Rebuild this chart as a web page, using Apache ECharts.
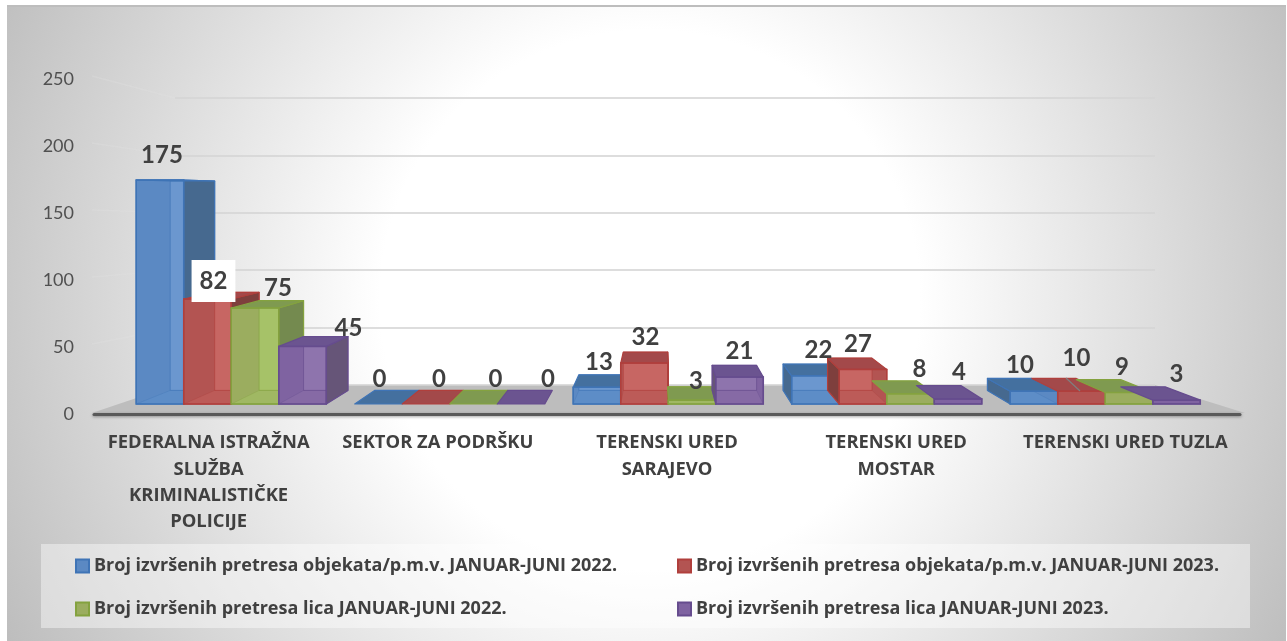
<!DOCTYPE html>
<html>
<head>
<meta charset="utf-8">
<style>html,body{margin:0;padding:0;background:#fff}#c{width:1287px;height:641px}</style>
<script src="https://cdn.jsdelivr.net/npm/echarts@6/dist/echarts.min.js"></script>
</head>
<body>
<div id="c"></div>
<script>
const categories = [
  'FEDERALNA ISTRAŽNA\nSLUŽBA\nKRIMINALISTIČKE\nPOLICIJE',
  'SEKTOR ZA PODRŠKU',
  'TERENSKI URED\nSARAJEVO',
  'TERENSKI URED\nMOSTAR',
  'TERENSKI URED TUZLA'
];
const seriesNames = [
  'Broj izvršenih pretresa objekata/p.m.v. JANUAR-JUNI 2022.',
  'Broj izvršenih pretresa objekata/p.m.v. JANUAR-JUNI 2023.',
  'Broj izvršenih pretresa lica JANUAR-JUNI 2022.',
  'Broj izvršenih pretresa lica JANUAR-JUNI 2023.'
];
const objekti2022 = [175, 0, 13, 22, 10];
const objekti2023 = [82, 0, 32, 27, 10];
const lica2022 = [75, 0, 3, 8, 9];
const lica2023 = [45, 0, 21, 4, 3];
const yTicks = [0, 50, 100, 150, 200, 250];

// Style tables (separate from the data)
const faces = [
  {front:'#5b89c3', back:'#6f9bd2', side:'#46698f', top:'#44709f', edge:'#3f74b6', floor:'#5f8fc9'},
  {front:'#b35452', back:'#cc6a68', side:'#7e3f3d', top:'#a3494a', edge:'#b03f3c', floor:'#c2605e'},
  {front:'#9bad5f', back:'#a9c76a', side:'#748a4f', top:'#7f9a50', edge:'#84a23f', floor:'#a3bf66'},
  {front:'#7f63a1', back:'#9278b0', side:'#665578', top:'#6b5490', edge:'#664c8e', floor:'#8a6fa9'}
];
// label offset [dx, dy] from the centre of each bar's front top edge, by series then category
const labelShift = [
  [[2,-25],[1,-25],[2,-25],[3,-26],[-14,-26]],
  [[6,-18],[13,-25],[1,-26],[-5,-25],[-5,-33]],
  [[23,-20],[22,-25],[4,-19],[9,-24],[-7,-25]],
  [[46,-18],[27,-25],[0,-26],[1,-27],[0,-26]]
];
const allValues = [objekti2022, objekti2023, lica2022, lica2023];
const FONT = 'Lato';
const WIDE = '"Open Sans"';
const TXT = '#404040';
const VX = 660, VY = 195, DEPTH = 0.065;
const back = p => [p[0] + DEPTH * (VX - p[0]), p[1] + DEPTH * (VY - p[1])];

function renderBar(params, api) {
  const s = params.seriesIndex, c = api.value(0), v = api.value(1);
  const center = api.coord([c, 0]);
  const topPt = api.coord([c, v]);
  const w = api.size([1, 0])[0] * 0.2175;
  const x0 = center[0] + (s - 2) * w, x1 = x0 + w;
  const yb = center[1], yt = topPt[1];
  const f = faces[s];
  const fbl=[x0,yb], fbr=[x1,yb], ftl=[x0,yt], ftr=[x1,yt];
  const bbl=back(fbl), bbr=back(fbr), btl=back(ftl), btr=back(ftr);
  const edge = {stroke:f.edge, lineWidth:1.2, lineJoin:'round'};
  const kids = [];
  const poly = (pts, fill, extra) => kids.push({type:'polygon', shape:{points:pts},
    style:Object.assign({fill:fill}, edge, extra||{})});
  const hiddenByPrev = s > 0 && allValues[s-1][c] >= v && bbl[0] < x0 - 5;
  if (v > 0) {
    poly([ftl,ftr,fbr,fbl], f.front);
    if (!hiddenByPrev) {
      poly([fbl,fbr,bbr,bbl], f.floor, {opacity:0.6, lineWidth:0.5});
      poly([btl,btr,bbr,bbl], f.back, {opacity:0.8, lineWidth:0.8});
    }
  }
  if (bbl[0] > x0) { if (v > 0) poly([ftr,btr,bbr,fbr], f.side); }
  else if (v > 0 && (s === 0 || allValues[s-1][c] < v)) poly([ftl,btl,bbl,fbl], f.side);
  poly([ftl,ftr,btr,btl], f.top);
  if (v > 0) kids.push({type:'polygon', shape:{points:[ftl,ftr,fbr,fbl]},
    style:{fill:'transparent', stroke:f.edge, lineWidth:1.5}});
  const sh = labelShift[s][c];
  const isBoxed = s === 1 && c === 0;
  kids.push({type:'text', z2:50, style:{
    x:(x0+x1)/2 + sh[0], y:yt + sh[1],
    text:String(v), align:'center', verticalAlign:'middle',
    font:'bold 24px ' + FONT, fill:TXT,
    backgroundColor:isBoxed ? '#ffffff' : undefined,
    padding:isBoxed ? [9,8,9,8] : 0
  }});
  return {type:'group', children:kids};
}

const wallGrid = {left:175, width:980, top:98, height:287};
const leftY = t => 76 + 67 * (5 - t / 50);
const wallLeft = yTicks.slice(1).map(t => ({
  type:'line', z:-6,
  shape:{x1:92, y1:leftY(t), x2:175, y2:98 + 287 * (1 - t / 250)},
  style:{stroke:'rgba(228,228,228,0.28)', lineWidth:1.5}
}));

const legendText = {color:TXT, fontFamily:WIDE, fontWeight:'bold', fontSize:18};
const chart = echarts.init(document.getElementById('c'), null, {renderer:'canvas'});
chart.setOption({
  animation:false,
  backgroundColor:'#ffffff',
  textStyle:{fontFamily:FONT},
  grid:[
    {left:122, width:1092.5, top:84, height:320},
    {left:94, width:1146, top:79, height:335},
    wallGrid
  ],
  xAxis:[
    {gridIndex:0, type:'category', data:categories, show:false},
    {gridIndex:1, type:'category', data:categories,
      axisLine:{lineStyle:{color:'#595959', width:3, shadowColor:'rgba(0,0,0,0.35)', shadowBlur:3, shadowOffsetY:1}},
      axisTick:{show:false},
      axisLabel:{interval:0, margin:16, color:TXT, fontFamily:WIDE, fontWeight:'bold', fontSize:18.4, lineHeight:26.3}},
    {gridIndex:2, type:'category', data:categories, show:false}
  ],
  yAxis:[
    {gridIndex:0, type:'value', min:0, max:250, show:false, splitLine:{show:false}},
    {gridIndex:1, type:'value', min:0, max:250, interval:50,
      axisLine:{show:false}, axisTick:{show:false}, splitLine:{show:false},
      axisLabel:{margin:20, color:'#505050', fontFamily:FONT, fontSize:18, padding:[6,0,0,0]}},
    {gridIndex:2, type:'value', min:0, max:250, interval:50,
      axisLine:{show:false}, axisTick:{show:false}, axisLabel:{show:false},
      splitLine:{show:true, lineStyle:{color:'rgba(212,212,212,0.8)', width:2}}}
  ],
  legend:[
    {left:70, top:552, orient:'vertical', itemWidth:13, itemHeight:13, itemGap:25, selectedMode:false,
      textStyle:legendText,
      data:[seriesNames[0], seriesNames[2]].map(n => ({name:n, icon:'rect'}))},
    {left:672, top:552, orient:'vertical', itemWidth:13, itemHeight:13, itemGap:25, selectedMode:false,
      textStyle:legendText,
      data:[seriesNames[1], seriesNames[3]].map(n => ({name:n, icon:'rect'}))}
  ],
  graphic:{elements:[
    {type:'rect', z:-10, shape:{x:7, y:5, width:1279, height:636},
      style:{fill:new echarts.graphic.RadialGradient(650, 300, 750, [
        {offset:0, color:'#ffffff'}, {offset:0.36, color:'#ffffff'}, {offset:1, color:'#bababa'}
      ], true)}},
    {type:'rect', z:-9, shape:{x:7, y:5, width:1279, height:2}, style:{fill:'#bdbdbd'}},
    {type:'polygon', z:-5, shape:{points:[[92,413],[1245,413],[1155,385],[175,385]]}, style:{fill:'#bdbdbd'}},
    {type:'rect', z:-5, shape:{x:41, y:544, width:1209, height:84}, style:{fill:'rgba(255,255,255,0.42)'}},
    {type:'line', z:100, shape:{x1:1066, y1:378, x2:1080, y2:391}, style:{stroke:'#7f7f7f', lineWidth:1.2}}
  ].concat(wallLeft)},
  series:allValues.map((vals, s) => ({
    type:'custom', name:seriesNames[s], xAxisIndex:0, yAxisIndex:0,
    renderItem:renderBar, encode:{x:0, y:1},
    itemStyle:{color:faces[s].front, borderColor:faces[s].edge, borderWidth:1.5},
    data:vals.map((v, c) => [c, v]),
    clip:false, silent:true
  }))
});
</script>
</body>
</html>
